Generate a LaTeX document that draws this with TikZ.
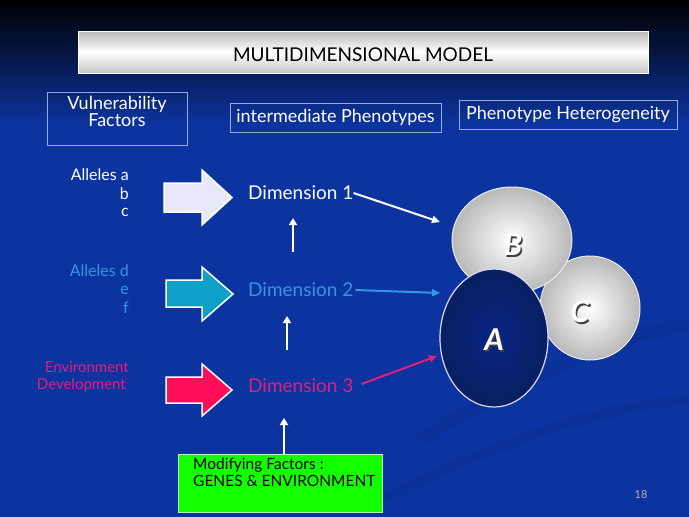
\documentclass[tikz,border=0pt]{standalone}
\usepackage{fontspec}
\setmainfont{Lato}
\usetikzlibrary{arrows.meta}
\definecolor{bgblue}{RGB}{12,52,160}
\definecolor{lblue}{RGB}{50,150,225}
\definecolor{pinktxt}{RGB}{225,30,120}
\definecolor{arrowpink}{RGB}{255,15,90}
\definecolor{arrowteal}{RGB}{15,160,200}
\definecolor{arrowlav}{RGB}{232,232,248}
\definecolor{navy}{RGB}{10,40,120}
\definecolor{boxline}{RGB}{150,170,220}
\tikzset{
  lbl/.style={inner sep=0pt, font=\fontsize{16}{18}\selectfont},
  hdrbox/.style={draw=boxline, line width=0.8pt, text=white, inner sep=0pt, font=\fontsize{18}{18}\selectfont},
  dimlbl/.style={inner sep=0pt, anchor=west, font=\fontsize{19}{20}\selectfont},
  uparr/.style={white, line width=2.4pt, -{Triangle[width=8pt,length=7pt]}},
  conn/.style={line width=2pt, -{Triangle[width=7pt,length=8pt]}},
  blockarr/.style={draw=white, line width=1.5pt, line join=miter},
  letter/.style={text=white, font=\fontsize{30}{30}\selectfont\bfseries\itshape, inner sep=0pt},
  lettershadow/.style={text=black!75, font=\fontsize{30}{30}\selectfont\bfseries\itshape, inner sep=0pt},
}
\begin{document}
\begin{tikzpicture}[x=1pt,y=-1pt]
\useasboundingbox (0,0) rectangle (689,517);
% background
\fill[bgblue] (0,0) rectangle (689,517);
\shade[top color=black, bottom color=bgblue] (0,0) rectangle (689,125);
% faint swooshes
\draw[line width=14pt, bgblue!85!black, opacity=0.3] (420,440) .. controls (550,360) and (640,330) .. (689,325);
\draw[line width=10pt, bgblue!85!black, opacity=0.25] (380,500) .. controls (520,430) and (620,405) .. (689,400);
% title bar
\shade[top color=gray!55, bottom color=gray!45, middle color=white] (78,31) rectangle (648,73);
\draw[white, line width=1pt] (78,31) rectangle (648,73);
\node[inner sep=0pt, font=\fontsize{19}{19}\selectfont] (title) at (363,55) {MULTIDIMENSIONAL MODEL};
% header boxes
\node[hdrbox, minimum width=140pt, minimum height=53pt] (vf) at (117,118.5) {};
\node[inner sep=0pt, align=center, text=white, font=\fontsize{18}{14}\selectfont, anchor=north] (vft) at (117,96) {Vulnerability\\Factors};
\node[hdrbox, minimum width=211pt, minimum height=29pt] (ip) at (335.5,117.5) {intermediate Phenotypes};
\node[hdrbox, minimum width=218pt, minimum height=29pt] (ph) at (568,114.5) {Phenotype Heterogeneity};
% allele labels
\node[lbl, text=white, anchor=east] (a1) at (129,175) {Alleles a};
\node[lbl, text=white, anchor=east] (a2) at (129,194) {b};
\node[lbl, text=white, anchor=east] (a3) at (129,212) {c};
\node[lbl, text=lblue, anchor=east] (d1) at (129,271) {Alleles d};
\node[lbl, text=lblue, anchor=east] (d2) at (129,290) {e};
\node[lbl, text=lblue, anchor=east] (d3) at (129,308) {f};
\node[lbl, text=pinktxt, anchor=east, font=\fontsize{15}{17}\selectfont] (e1) at (129,367) {Environment};
\node[lbl, text=pinktxt, anchor=east, font=\fontsize{15}{17}\selectfont] (e2) at (126,385) {Development};
% block arrows
\draw[blockarr, fill=arrowlav] (164,183) -- (202,183) -- (202,170) -- (232,197.5) -- (202,225) -- (202,212) -- (164,212) -- cycle;
\draw[blockarr, fill=arrowteal] (166,280) -- (202,280) -- (202,267) -- (233,294) -- (202,321) -- (202,307) -- (166,307) -- cycle;
\draw[blockarr, fill=arrowpink] (166,377) -- (202,377) -- (202,364) -- (232,390) -- (202,416) -- (202,403) -- (166,403) -- cycle;
% dimension labels
\node[dimlbl, text=white] (dim1) at (248,193) {Dimension 1};
\node[dimlbl, text=lblue] (dim2) at (248,290) {Dimension 2};
\node[dimlbl, text=pinktxt] (dim3) at (248,386) {Dimension 3};
% circles
\shade[draw=white!85!gray, line width=1pt, inner color=white, outer color=gray!55] (590,308) ellipse (50 and 52);
\shade[draw=white!85!gray, line width=1pt, inner color=white, outer color=gray!55] (512,240) ellipse (60 and 53);
\shade[draw=white!85!blue, line width=1.2pt, inner color=navy!90!blue, outer color=navy!80!black] (494,338) ellipse (54 and 69);
\node[lettershadow] at (514.5,246.5) {B};
\node[letter] (B) at (513,245) {B};
\node[lettershadow] at (581.5,313.5) {C};
\node[letter] (C) at (580,312) {C};
\node[lettershadow] at (495.5,341.5) {A};
\node[letter] (A) at (494,340) {A};
\coordinate (Bin) at (440,222);
\coordinate (Ain2) at (440,293);
\coordinate (Ain3) at (437,356);
\coordinate (m3) at (284,0);
% connectors
\draw[conn, white] (dim1.east) -- (Bin);
\draw[conn, lblue] ([xshift=2pt]dim2.east) -- (Ain2);
\draw[conn, pinktxt] ([xshift=8pt,yshift=2pt]dim3.east) -- (Ain3);
% modifying factors
\node[draw=white!70!green, line width=0.8pt, fill=green!90!lime, minimum width=204pt, minimum height=58pt] (mf) at (280,483) {};
\node[inner sep=0pt, anchor=north west, align=left, font=\fontsize{15.5}{17}\selectfont] (mft) at (193,458) {Modifying Factors :\\GENES \& ENVIRONMENT};
% up arrows
\draw[uparr] (293,252) -- (293,218);
\draw[uparr] (287,350) -- (287,316);
\draw[uparr] (mf.north -| m3) -- (284,418);
% page number
\node[inner sep=0pt, text=gray!60, font=\fontsize{11}{11}\selectfont] (pg) at (641,495) {18};
\end{tikzpicture}
\end{document}
